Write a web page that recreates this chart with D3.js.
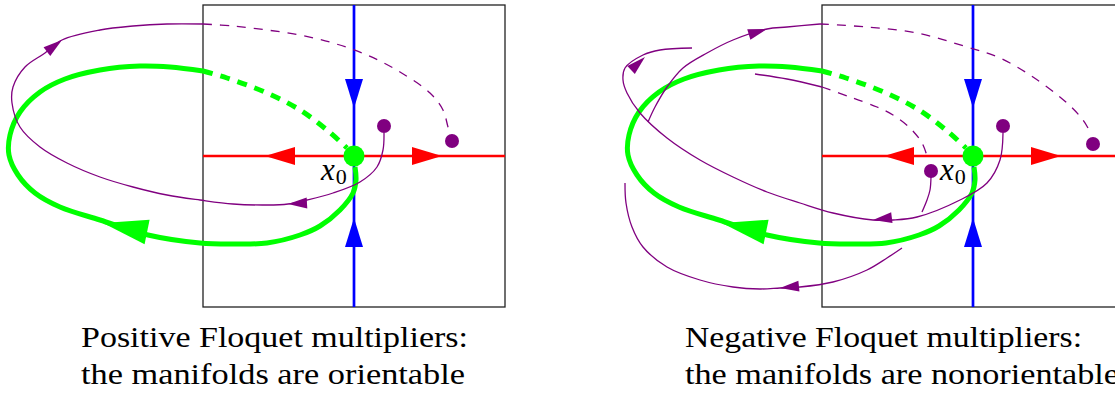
<!DOCTYPE html>
<html>
<head>
<meta charset="utf-8">
<script src="https://cdn.jsdelivr.net/npm/d3@7"></script>
<style>
  html, body { margin: 0; padding: 0; background: #fff; }
  svg { display: block; }
  text { font-family: "Liberation Serif", "DejaVu Serif", serif; }
</style>
</head>
<body>
<svg id="chart" width="1115" height="394"></svg>
<script>
// box coordinates: centre of the section is (0,0), box edge at +-151, v points up
const boxHalf = 151;

const captionsPositive = ["Positive Floquet multipliers:", "the manifolds are orientable"];
const captionsNegative = ["Negative Floquet multipliers:", "the manifolds are nonorientable"];

// stable (blue) and unstable (red) directions, arrows as [tipU, tipV, baseU, baseV]
const unstableArrows = [[-89, 0, -59, 0], [88, 0, 59, 0]];
const stableArrows = [[0, 48, 0, 76], [0, -62, 0, -91]];

// periodic orbit (green), same in both sections
const orbitSolid = [[1, -11], [2, -24], [-1, -37], [-14, -54], [-34, -70], [-54, -79], [-87, -87],
  [-121, -88], [-154, -87], [-206, -79], [-254, -64], [-294, -51], [-319, -37], [-336, -19],
  [-345, 1], [-344, 21], [-334, 44], [-314, 64], [-289, 77], [-254, 86], [-214, 90], [-184, 89], [-151, 85]];
const orbitDashed = [[-151, 85], [-127, 78], [-87, 63], [-54, 46], [-27, 26], [-7, 8]];
const orbitArrow = [-251, -67, -207, -76];

// positive multipliers: one orbit from dot to dot
const posSolid = [
  [[30, 23], [29, 6], [23, -11], [6, -26], [-21, -37], [-47, -44], [-66, -48], [-87, -49], [-121, -48],
   [-154, -44], [-187, -39], [-221, -31], [-254, -21], [-287, -7], [-314, 9], [-334, 29], [-342, 53],
   [-341, 69], [-329, 89], [-309, 103], [-292, 116], [-254, 126], [-221, 130], [-187, 132], [-151, 132]]
];
const posDashed = [
  [[-151, 132], [-121, 130], [-87, 126], [-54, 121], [-21, 113], [13, 101], [46, 84], [76, 63],
   [89, 46], [94, 29], [96, 23]]
];
const posArrows = [[-66, -48, -48, -47], [-292, 116, -309, 103]];
const posDots = [[30, 30], [98, 15]];

// negative multipliers: the orbit flips side every turn
const negSolid = [
  [[30, 23], [27, -4], [14, -27], [-13, -44], [-56, -61], [-80, -64], [-100, -64], [-140, -57],
   [-173, -47], [-206, -36], [-240, -21], [-273, -4], [-306, 18], [-333, 43], [-346, 63], [-350, 76],
   [-348, 88], [-330, 101], [-313, 106], [-281, 108]],
  [[-325, 34], [-318, 49], [-306, 69], [-290, 88], [-266, 103], [-240, 116], [-206, 127], [-186, 129], [-153, 132]],
  [[-218, 82], [-186, 77], [-151, 69]],
  [[-42, -21], [-43, -34], [-46, -44], [-51, -56]],
  [[-71, -92], [-86, -102], [-106, -114], [-140, -126], [-173, -131], [-193, -132], [-213, -133],
   [-240, -131], [-273, -124], [-306, -111], [-330, -91], [-341, -71], [-347, -47], [-348, -27]]
];
const negDashed = [
  [[-153, 132], [-106, 129], [-56, 123], [-6, 109], [27, 98], [60, 79], [94, 53], [110, 36], [115, 28]],
  [[-151, 69], [-123, 59], [-96, 49], [-80, 41], [-63, 28], [-51, 13], [-46, 0]]
];
const negArrows = [[-100, -64, -76, -61], [-328, 99, -342, 86], [-206, 127, -226, 121], [-193, -132, -173, -130]];
const negDots = [[30, 30], [120, 12], [-42, -15]];

const green = "#00ff00", purple = "#800080", red = "#ff0000", blue = "#0000ff";

const svg = d3.select("#chart");

function arrowPath(a, x, y, len, half) {
  const tx = x(a[0]), ty = y(a[1]), bx0 = x(a[2]), by0 = y(a[3]);
  const dx = tx - bx0, dy = ty - by0, n = Math.hypot(dx, dy);
  const ux = dx / n, uy = dy / n;
  const bx = tx - ux * len, by = ty - uy * len;
  return `M${tx},${ty}L${bx - uy * half},${by + ux * half}L${bx + uy * half},${by - ux * half}Z`;
}

function drawPanel(cx, cy, solid, dashed, arrows, dots, captions, capX, capWidths) {
  const x = d3.scaleLinear().domain([-boxHalf, boxHalf]).range([cx - boxHalf, cx + boxHalf]);
  const y = d3.scaleLinear().domain([-boxHalf, boxHalf]).range([cy + boxHalf, cy - boxHalf]);
  const line = d3.line().x(d => x(d[0])).y(d => y(d[1])).curve(d3.curveCatmullRom.alpha(0.5));
  const g = svg.append("g");

  g.append("rect")
    .attr("x", x(-boxHalf)).attr("y", y(boxHalf))
    .attr("width", x(boxHalf) - x(-boxHalf)).attr("height", y(-boxHalf) - y(boxHalf))
    .attr("fill", "none").attr("stroke", "#222").attr("stroke-width", 1.3);

  // unstable + stable manifolds of the section
  g.append("line").attr("x1", x(-boxHalf)).attr("x2", x(boxHalf)).attr("y1", y(0)).attr("y2", y(0))
    .attr("stroke", red).attr("stroke-width", 2.5);
  g.append("line").attr("x1", x(0)).attr("x2", x(0)).attr("y1", y(boxHalf)).attr("y2", y(-boxHalf))
    .attr("stroke", blue).attr("stroke-width", 2.7);
  g.selectAll(".ua").data(unstableArrows).enter().append("path")
    .attr("d", d => arrowPath(d, x, y, 30, 9)).attr("fill", red);
  g.selectAll(".sa").data(stableArrows).enter().append("path")
    .attr("d", d => arrowPath(d, x, y, 29, 9)).attr("fill", blue);

  // periodic orbit
  g.append("path").attr("d", line(orbitSolid)).attr("fill", "none")
    .attr("stroke", green).attr("stroke-width", 5);
  g.append("path").attr("d", line(orbitDashed)).attr("fill", "none")
    .attr("stroke", green).attr("stroke-width", 5).attr("stroke-dasharray", "10,8");
  g.append("path").attr("d", arrowPath(orbitArrow, x, y, 45, 12.5)).attr("fill", green);

  // trajectory near the orbit
  g.selectAll(".ps").data(solid).enter().append("path")
    .attr("d", line).attr("fill", "none").attr("stroke", purple).attr("stroke-width", 1.3);
  g.selectAll(".pd").data(dashed).enter().append("path")
    .attr("d", line).attr("fill", "none").attr("stroke", purple).attr("stroke-width", 1.3)
    .attr("stroke-dasharray", "9,8");
  g.selectAll(".pa").data(arrows).enter().append("path")
    .attr("d", d => arrowPath(d, x, y, 19, 5.5)).attr("fill", purple);
  g.selectAll(".pdot").data(dots).enter().append("circle")
    .attr("cx", d => x(d[0])).attr("cy", d => y(d[1])).attr("r", 7).attr("fill", purple);

  g.append("circle").attr("cx", x(0)).attr("cy", y(0)).attr("r", 10.5).attr("fill", green);

  const lab = g.append("text").attr("x", x(-33)).attr("y", y(-24)).attr("font-size", 31);
  lab.append("tspan").attr("font-style", "italic").text("x");
  lab.append("tspan").attr("dy", 4).attr("dx", 1).attr("font-size", 22).text("0");

  // captions, stretched to the width of the original typesetting
  g.selectAll(".cap").data(captions).enter().append("text")
    .attr("x", capX).attr("y", (d, i) => 347 + i * 37)
    .attr("font-size", 30).attr("fill", "#000")
    .attr("textLength", (d, i) => capWidths[i]).attr("lengthAdjust", "spacingAndGlyphs")
    .text(d => d);
}

drawPanel(354, 156, posSolid, posDashed, posArrows, posDots, captionsPositive, 81, [387, 384]);
drawPanel(973, 156, negSolid, negDashed, negArrows, negDots, captionsNegative, 685, [397, 434]);
</script>
</body>
</html>
